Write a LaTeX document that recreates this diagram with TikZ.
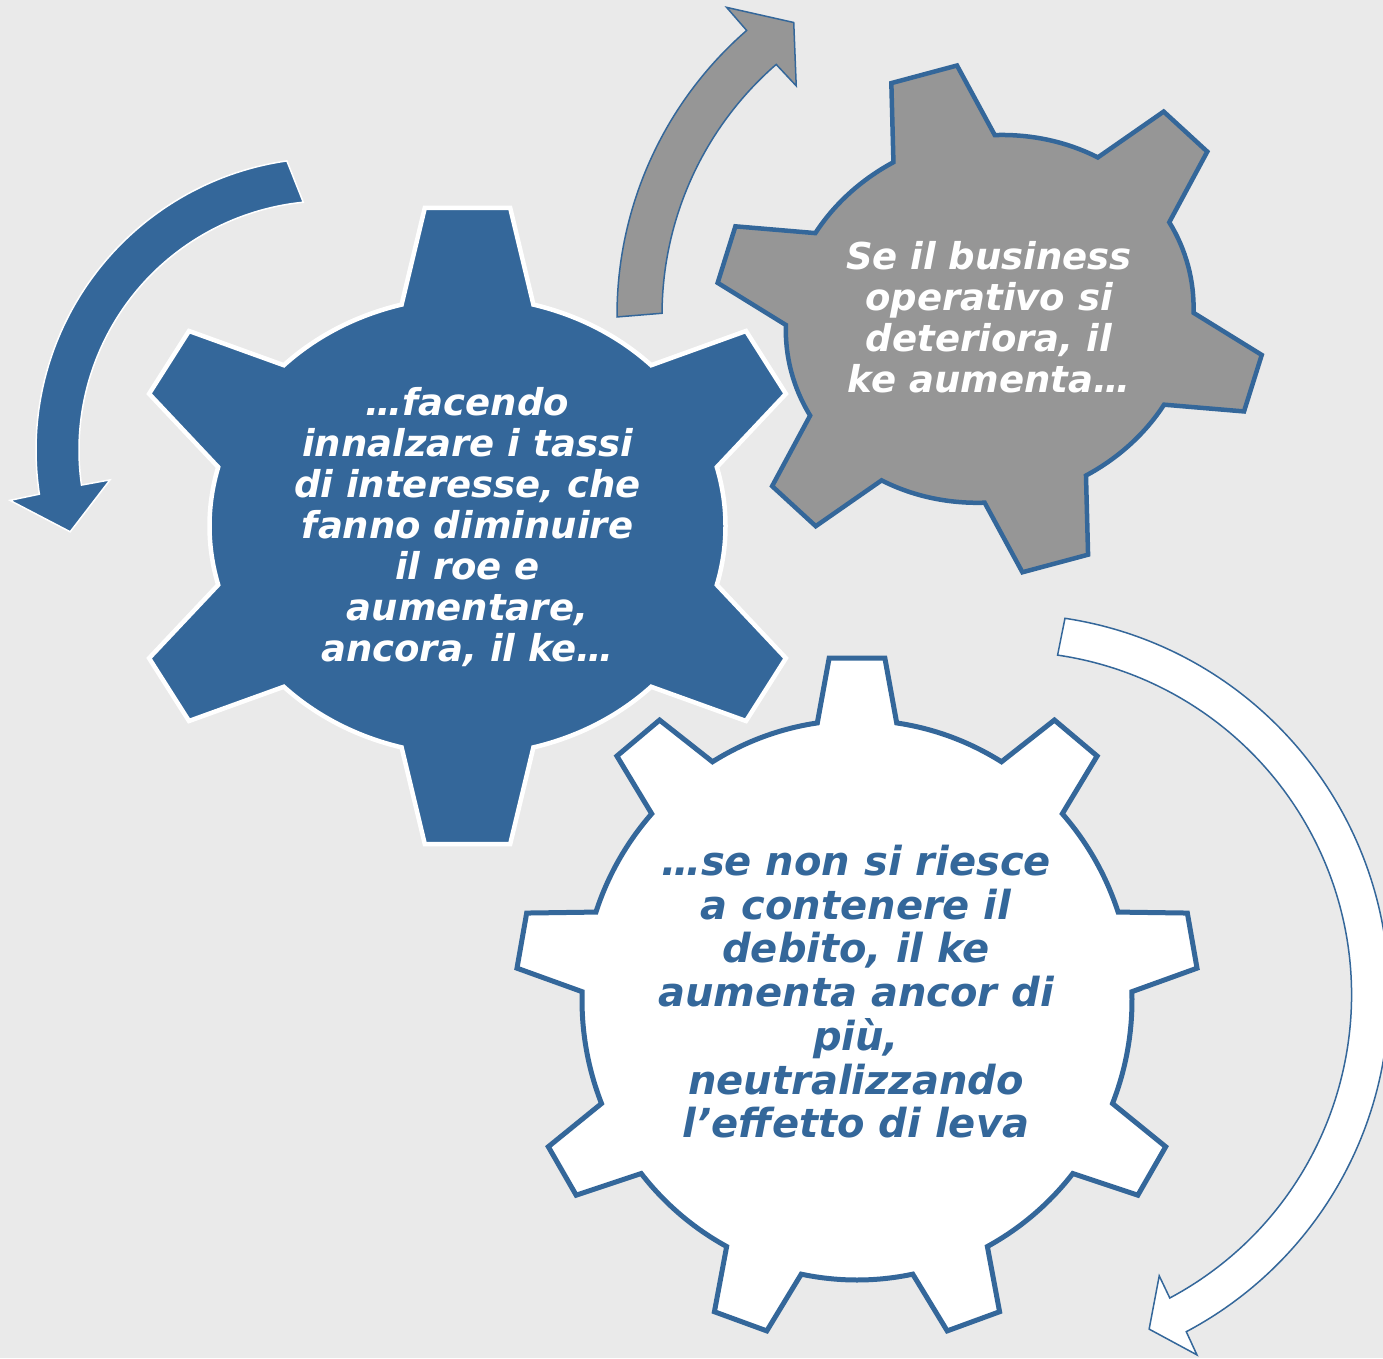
\documentclass[tikz,border=0pt]{standalone}
\usepackage{fontspec}
\setmainfont{DejaVu Sans}
\definecolor{bgGray}{RGB}{234,234,234}
\definecolor{gearBlue}{RGB}{52,103,154}
\definecolor{gearGray}{RGB}{150,150,150}

% Six-tooth gear on an elliptic body (258 x 229), teeth standing normal to the rim.
\newcommand{\sixgearoutline}{%
  (0:258 and 229) arc[start angle=0, end angle=14.9, x radius=258, y radius=229]
  -- (318.4,132.2) -- (278.5,195) -- (44.6:258 and 229)
  arc[start angle=44.6, end angle=75.2, x radius=258, y radius=229]
  -- (42.7,318.1) -- (-42.7,318.1) -- (104.8:258 and 229)
  arc[start angle=104.8, end angle=135.4, x radius=258, y radius=229]
  -- (-278.5,195) -- (-318.4,132.2) -- (165.1:258 and 229)
  arc[start angle=165.1, end angle=194.9, x radius=258, y radius=229]
  -- (-318.4,-132.2) -- (-278.5,-195) -- (224.6:258 and 229)
  arc[start angle=224.6, end angle=255.2, x radius=258, y radius=229]
  -- (-42.7,-318.1) -- (42.7,-318.1) -- (284.8:258 and 229)
  arc[start angle=284.8, end angle=315.4, x radius=258, y radius=229]
  -- (278.5,-195) -- (318.4,-132.2) -- (345.1:258 and 229)
  arc[start angle=345.1, end angle=360, x radius=258, y radius=229] -- cycle}

% Generic gear: #1 teeth, #2/#3 body radii, #4/#5 tip radii,
% #6 tip half-angle, #7 base half-angle, #8 angle of first tooth
\newcommand{\gearoutline}[8]{%
  ({#8-180/#1}:#2 and #3)
  \foreach \k in {1,...,#1}{%
    arc[start angle={#8+(\k-1)*360/#1-180/#1}, end angle={#8+(\k-1)*360/#1-#7}, x radius=#2, y radius=#3]
    -- ({#8+(\k-1)*360/#1-#6}:#4 and #5)
    -- ({#8+(\k-1)*360/#1+#6}:#4 and #5)
    -- ({#8+(\k-1)*360/#1+#7}:#2 and #3)
    arc[start angle={#8+(\k-1)*360/#1+#7}, end angle={#8+(\k-1)*360/#1+180/#1}, x radius=#2, y radius=#3]
  } -- cycle}

\begin{document}
\begin{tikzpicture}[x=1pt,y=1pt,
  bluegear/.style={fill=gearBlue, draw=white, line width=4.5pt, line join=miter},
  graygear/.style={fill=gearGray, draw=gearBlue, line width=4.5pt, line join=miter},
  whitegear/.style={fill=white, draw=gearBlue, line width=5pt, line join=miter},
  bluearrow/.style={fill=gearBlue, draw=white, line width=1.5pt, line join=miter},
  grayarrow/.style={fill=gearGray, draw=gearBlue, line width=1.5pt, line join=miter},
  whitearrow/.style={fill=white, draw=gearBlue, line width=1.5pt, line join=miter},
  geartext/.style={align=center, inner sep=0pt, font=\bfseries\itshape\fontsize{37}{41}\selectfont}]

% canvas
\useasboundingbox (0,0) rectangle (1383,1358);
\fill[bgGray] (0,0) rectangle (1383,1358);
\clip (0,0) rectangle (1383,1358);

% curved arrows
\begin{scope}[shift={(328,908)}]
  \path[bluearrow] (98.1:292) arc[start angle=98.1, end angle=188.7, radius=292]
    -- (189:322) -- (197.6:270.5) -- (187.8:220) -- (188.1:249)
    arc[start angle=188.1, end angle=95.7, radius=249] -- cycle;
\end{scope}
\begin{scope}[shift={(994,1043)}]
  \path[grayarrow] (180.3:377) arc[start angle=180.3, end angle=131, radius=377]
    -- (131:407.6) -- (124.4:354.5) -- (130.8:302.7) -- (131:332)
    arc[start angle=131, end angle=179.7, radius=332] -- cycle;
\end{scope}
\begin{scope}[shift={(1008,363)}]
  \path[whitearrow] (81.4:381) arc[start angle=81.4, end angle=-62.1, radius=381]
    -- (-62.3:406.5) -- (-67.1:362.7) -- (-61.7:319) -- (-61.9:343.5)
    arc[start angle=-61.9, end angle=81.7, radius=343.5] -- cycle;
\end{scope}

% gears
\begin{scope}[shift={(467.5,832)}]
  \path[bluegear] \sixgearoutline;
\end{scope}
\begin{scope}[shift={(989.7,1039.1)}, rotate=15, scale=0.796]
  \path[graygear] \sixgearoutline;
\end{scope}
\begin{scope}[shift={(857,358)}]
  \path[whitegear] \gearoutline{9}{275}{280}{341.5}{343.1}{4.68}{8.3}{10};
\end{scope}

% gear captions
\node[geartext, text=white] (blueText) at (467.5,831.3)
  {…facendo\\innalzare i tassi\\di interesse, che\\fanno diminuire\\il roe e\\aumentare,\\ancora, il ke…};
\node[geartext, text=white] (grayText) at (989,1040.8)
  {Se il business\\operativo si\\deteriora, il\\ke aumenta…};
\node[geartext, text=gearBlue, font=\bfseries\itshape\fontsize{40}{43.75}\selectfont] (whiteText) at (856,366.3)
  {…se non si riesce\\a contenere il\\debito, il ke\\aumenta ancor di\\più,\\neutralizzando\\l’effetto di leva};
\end{tikzpicture}
\end{document}
